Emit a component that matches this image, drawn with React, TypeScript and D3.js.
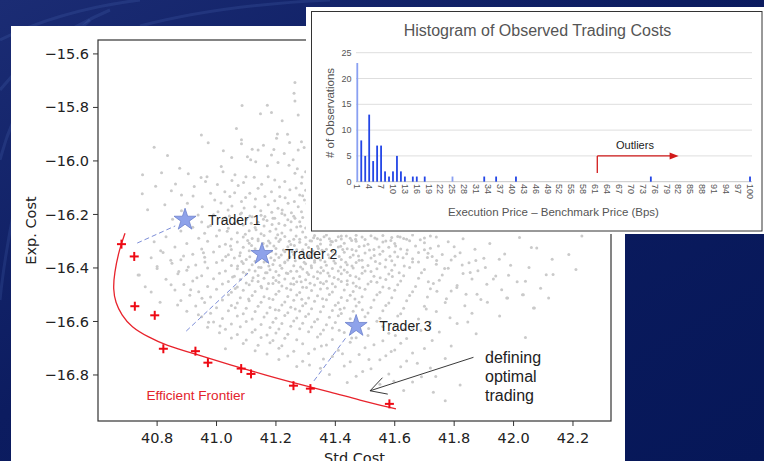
import React from "react";
import * as d3 from "d3";

// ---------------- Scatter (matplotlib) data ----------------
const xTicks = [40.8, 41.0, 41.2, 41.4, 41.6, 41.8, 42.0, 42.2];
const yTicks = [-15.6, -15.8, -16.0, -16.2, -16.4, -16.6, -16.8];

const traderNames = ["Trader 1", "Trader 2", "Trader 3"];
const traderStd = [40.894, 41.153, 41.47];
const traderExp = [-16.22, -16.348, -16.617];
// dashed connectors from frontier towards each trader: [std0, exp0, std1, exp1]
const connectors = [
  [40.733, -16.307, 40.861, -16.243],
  [40.898, -16.636, 41.106, -16.419],
  [41.328, -16.822, 41.44, -16.654],
];

const frontierStd = [40.692, 40.672, 40.656, 40.652, 40.66, 40.68, 40.713, 40.77, 40.826, 40.938, 41.049, 41.164, 41.275, 41.386, 41.477, 41.604];
const frontierExp = [-16.27, -16.333, -16.42, -16.48, -16.53, -16.575, -16.621, -16.658, -16.688, -16.725, -16.763, -16.8, -16.834, -16.864, -16.893, -16.927];

const optStd = [40.68, 40.723, 40.725, 40.792, 40.821, 40.929, 40.971, 41.083, 41.116, 41.259, 41.316, 41.582];
const optExp = [-16.311, -16.357, -16.543, -16.577, -16.702, -16.711, -16.754, -16.776, -16.796, -16.84, -16.851, -16.908];

const cloud: [number, number][] = [
  [41.264,-15.707],[41.261,-15.747],[41.264,-15.776],[41.086,-15.793],[41.171,-15.792],[41.148,-15.824],[41.185,-15.819],[41.221,-15.85],[41.275,-15.828],[41.067,-15.879],[41.205,-15.899],[41.202,-15.915],[41.239,-15.9],[40.949,-15.903],[40.972,-15.932],[41.084,-15.921],[41.084,-15.936],[40.79,-15.949],[40.835,-15.98],[41.12,-15.956],[41.14,-15.959],[41.104,-15.984],[41.115,-15.996],[41.185,-15.978],[41.275,-15.959],[41.286,-15.928],[40.876,-16.027],[40.815,-16.044],[40.751,-16.052],[41.016,-16.021],[41.022,-16.04],[40.968,-16.059],[40.963,-16.077],[41.062,-16.052],[41.073,-16.092],[41.099,-16.059],[41.127,-16.061],[41.174,-16.059],[41.196,-16.071],[41.23,-16.077],[41.264,-16.046],[41.258,-15.996],[40.75,-16.123],[40.848,-16.111],[40.882,-16.127],[40.925,-16.096],[41.028,-16.115],[41.045,-16.133],[40.826,-16.164],[40.902,-16.158],[40.994,-16.146],[40.952,-16.171],[41.084,-16.152],[41.112,-16.121],[41.14,-16.102],[41.163,-16.133],[41.185,-16.115],[41.213,-16.133],[41.247,-16.108],[41.28,-16.127],[41.286,-16.083],[41.129,-16.171],[41.174,-16.164],[41.207,-16.177],[41.241,-16.158],[41.275,-16.171],[41.039,-16.183],[41.005,-16.19],[41.084,-16.195],[41.112,-16.206],[41.163,-16.208],[41.196,-16.214],[41.23,-16.202],[41.264,-16.214],[41.286,-16.19],[40.938,-16.202],[40.972,-16.246],
  [41.295,-15.95],[41.31,-16.0],[41.3,-16.04],[41.315,-16.09],[41.29,-16.13],[41.305,-16.16],[41.31,-16.19],[41.3,-16.11],[41.288,-16.06],
  [40.99,-16.201],[41.03,-16.212],[41.08,-16.198],[41.12,-16.209],[41.15,-16.203],[41.19,-16.214],[41.22,-16.196],[41.26,-16.207],[41.29,-16.211],
  [40.95,-16.228],[41.02,-16.221],[41.06,-16.232],[41.1,-16.219],[41.14,-16.229],[41.17,-16.223],[41.21,-16.234],[41.24,-16.22],[41.28,-16.227],[41.31,-16.231],
  [40.92,-16.248],[40.98,-16.241],[41.04,-16.252],[41.09,-16.239],[41.13,-16.249],[41.16,-16.243],[41.2,-16.254],[41.23,-16.24],[41.27,-16.247],[41.3,-16.251],
  [40.88,-16.262],[40.96,-16.27],[41.01,-16.259],[41.07,-16.268],[41.11,-16.261],[41.15,-16.272],[41.18,-16.263],[41.22,-16.269],[41.25,-16.258],[41.29,-16.266],[41.33,-16.279],[41.37,-16.277],[41.42,-16.281],[41.47,-16.278],[41.52,-16.28],[41.56,-16.279],[41.61,-16.282],[41.66,-16.277],[41.72,-16.281],
  [40.83,-16.283],[40.94,-16.289],[41.0,-16.281],[41.05,-16.292],[41.09,-16.284],[41.12,-16.29],[41.16,-16.279],[41.2,-16.288],[41.23,-16.282],[41.26,-16.293],[41.3,-16.285],[41.34,-16.29],[41.38,-16.291],[41.41,-16.283],[41.45,-16.289],[41.49,-16.284],[41.54,-16.292],[41.59,-16.286],[41.63,-16.29],[41.7,-16.288],[41.74,-16.284],[41.83,-16.291],[42.02,-16.286],[42.23,-16.281],
  [40.79,-16.302],[40.9,-16.309],[40.97,-16.3],[41.03,-16.311],[41.07,-16.303],[41.11,-16.308],[41.14,-16.298],[41.18,-16.307],[41.21,-16.301],[41.25,-16.312],[41.28,-16.304],[41.32,-16.299],[41.35,-16.31],[41.39,-16.302],[41.43,-16.308],[41.47,-16.3],[41.51,-16.311],[41.56,-16.303],[41.6,-16.309],[41.65,-16.298],[41.7,-16.306],[41.78,-16.302],[41.92,-16.309],
  [40.86,-16.322],[40.95,-16.329],[41.01,-16.32],[41.05,-16.331],[41.09,-16.323],[41.13,-16.328],[41.17,-16.318],[41.2,-16.327],[41.24,-16.321],[41.27,-16.332],[41.31,-16.324],[41.34,-16.319],[41.37,-16.33],[41.41,-16.322],[41.44,-16.328],[41.48,-16.32],[41.53,-16.331],[41.58,-16.323],[41.62,-16.329],[41.67,-16.318],[41.72,-16.326],[41.8,-16.321],[41.87,-16.33],[42.06,-16.324],
  [40.82,-16.342],[40.92,-16.349],[40.99,-16.34],[41.04,-16.351],[41.08,-16.343],[41.2,-16.348],[41.23,-16.339],[41.26,-16.35],[41.29,-16.342],[41.33,-16.347],[41.36,-16.338],[41.4,-16.349],[41.43,-16.341],[41.46,-16.352],[41.5,-16.344],[41.55,-16.349],[41.6,-16.34],[41.64,-16.347],[41.68,-16.342],[41.76,-16.35],[41.82,-16.343],[41.97,-16.348],
  [40.78,-16.362],[40.88,-16.369],[40.96,-16.36],[41.02,-16.371],[41.06,-16.363],[41.1,-16.368],[41.13,-16.375],[41.17,-16.376],[41.21,-16.361],[41.24,-16.37],[41.28,-16.364],[41.31,-16.359],[41.35,-16.37],[41.38,-16.362],[41.42,-16.368],[41.45,-16.36],[41.49,-16.371],[41.52,-16.363],[41.57,-16.369],[41.61,-16.358],[41.66,-16.366],[41.71,-16.361],[41.79,-16.37],[41.9,-16.364],[42.13,-16.367],
  [40.85,-16.382],[40.93,-16.389],[41.0,-16.38],[41.05,-16.391],[41.09,-16.383],[41.12,-16.388],[41.16,-16.378],[41.19,-16.387],[41.23,-16.381],[41.26,-16.392],[41.3,-16.384],[41.33,-16.379],[41.37,-16.39],[41.4,-16.382],[41.44,-16.388],[41.47,-16.38],[41.51,-16.391],[41.55,-16.383],[41.6,-16.389],[41.66,-16.378],[41.74,-16.386],[41.85,-16.381],[41.99,-16.39],
  [40.8,-16.402],[40.9,-16.409],[40.97,-16.4],[41.03,-16.411],[41.07,-16.403],[41.11,-16.408],[41.15,-16.398],[41.18,-16.407],[41.22,-16.401],[41.25,-16.412],[41.29,-16.404],[41.32,-16.399],[41.36,-16.41],[41.39,-16.402],[41.43,-16.408],[41.46,-16.4],[41.5,-16.411],[41.54,-16.403],[41.59,-16.409],[41.65,-16.398],[41.7,-16.406],[41.78,-16.401],[41.88,-16.41],[42.21,-16.406],
  [40.87,-16.422],[40.95,-16.429],[41.01,-16.42],[41.06,-16.431],[41.1,-16.423],[41.14,-16.428],[41.17,-16.418],[41.21,-16.427],[41.24,-16.421],[41.28,-16.432],[41.31,-16.424],[41.35,-16.419],[41.38,-16.43],[41.42,-16.422],[41.45,-16.428],[41.49,-16.42],[41.53,-16.431],[41.58,-16.423],[41.63,-16.429],[41.69,-16.418],[41.76,-16.426],[41.83,-16.421],[41.94,-16.43],[42.11,-16.425],[42.133,-16.424],
  [40.74,-16.426],[40.83,-16.442],[40.92,-16.449],[40.99,-16.44],[41.04,-16.451],[41.08,-16.443],[41.12,-16.448],[41.16,-16.438],[41.2,-16.447],[41.23,-16.441],[41.27,-16.452],[41.3,-16.444],[41.34,-16.439],[41.37,-16.45],[41.41,-16.442],[41.44,-16.448],[41.48,-16.44],[41.52,-16.451],[41.57,-16.443],[41.62,-16.449],[41.68,-16.438],[41.75,-16.446],[41.86,-16.441],[42.04,-16.45],
  [40.89,-16.462],[40.97,-16.469],[41.02,-16.46],[41.07,-16.471],[41.11,-16.463],[41.15,-16.468],[41.19,-16.458],[41.22,-16.467],[41.26,-16.461],[41.29,-16.472],[41.33,-16.464],[41.36,-16.459],[41.4,-16.47],[41.44,-16.462],[41.47,-16.468],[41.51,-16.46],[41.56,-16.471],[41.61,-16.463],[41.67,-16.469],[41.73,-16.458],[41.81,-16.466],[41.91,-16.461],
  [40.78,-16.49],[40.86,-16.482],[40.94,-16.489],[41.0,-16.48],[41.05,-16.491],[41.09,-16.483],[41.13,-16.488],[41.17,-16.478],[41.21,-16.487],[41.25,-16.481],[41.28,-16.492],[41.32,-16.484],[41.35,-16.479],[41.39,-16.49],[41.43,-16.482],[41.46,-16.488],[41.5,-16.48],[41.55,-16.491],[41.6,-16.483],[41.66,-16.489],[41.72,-16.478],[41.79,-16.486],[41.96,-16.481],[42.03,-16.5],
  [40.91,-16.502],[40.98,-16.509],[41.04,-16.5],[41.08,-16.511],[41.12,-16.503],[41.16,-16.508],[41.2,-16.498],[41.24,-16.507],[41.27,-16.501],[41.31,-16.512],[41.34,-16.504],[41.38,-16.499],[41.42,-16.51],[41.45,-16.502],[41.49,-16.508],[41.54,-16.5],[41.59,-16.511],[41.65,-16.503],[41.71,-16.509],[41.84,-16.498],[41.98,-16.512],
  [40.81,-16.528],[40.88,-16.522],[40.96,-16.529],[41.02,-16.52],[41.07,-16.531],[41.11,-16.523],[41.15,-16.528],[41.19,-16.518],[41.23,-16.527],[41.26,-16.521],[41.3,-16.532],[41.33,-16.524],[41.37,-16.519],[41.41,-16.53],[41.44,-16.522],[41.48,-16.528],[41.53,-16.52],[41.58,-16.531],[41.64,-16.523],[41.77,-16.529],[41.89,-16.518],
  [40.93,-16.542],[41.0,-16.549],[41.05,-16.54],[41.1,-16.551],[41.14,-16.543],[41.18,-16.548],[41.22,-16.538],[41.25,-16.547],[41.29,-16.541],[41.32,-16.552],[41.36,-16.544],[41.4,-16.539],[41.43,-16.55],[41.47,-16.542],[41.52,-16.548],[41.57,-16.54],[41.63,-16.551],[41.7,-16.543],[42.07,-16.55],
  [40.9,-16.562],[40.98,-16.569],[41.04,-16.56],[41.09,-16.571],[41.13,-16.563],[41.17,-16.568],[41.21,-16.558],[41.24,-16.567],[41.28,-16.561],[41.31,-16.572],[41.35,-16.564],[41.39,-16.559],[41.42,-16.57],[41.46,-16.562],[41.51,-16.568],[41.56,-16.56],[41.62,-16.571],[41.74,-16.563],[41.86,-16.569],
  [40.95,-16.582],[41.02,-16.589],[41.07,-16.58],[41.12,-16.591],[41.16,-16.583],[41.2,-16.588],[41.23,-16.578],[41.27,-16.587],[41.3,-16.581],[41.34,-16.592],[41.38,-16.584],[41.41,-16.579],[41.45,-16.59],[41.5,-16.582],[41.55,-16.588],[41.61,-16.58],[41.68,-16.591],
  [40.99,-16.602],[41.05,-16.609],[41.1,-16.6],[41.15,-16.611],[41.19,-16.603],[41.22,-16.608],[41.26,-16.598],[41.29,-16.607],[41.33,-16.601],[41.37,-16.612],[41.4,-16.604],[41.54,-16.599],[41.6,-16.61],[41.72,-16.602],[41.81,-16.608],
  [40.97,-16.622],[41.03,-16.629],[41.08,-16.62],[41.13,-16.631],[41.18,-16.623],[41.21,-16.628],[41.25,-16.618],[41.28,-16.627],[41.32,-16.621],[41.36,-16.632],[41.39,-16.624],[41.56,-16.619],[41.63,-16.63],[41.66,-16.622],
  [41.01,-16.642],[41.07,-16.649],[41.12,-16.64],[41.17,-16.651],[41.2,-16.643],[41.24,-16.648],[41.31,-16.638],[41.35,-16.647],[41.43,-16.641],[41.51,-16.652],[41.58,-16.644],[41.75,-16.639],
  [41.05,-16.662],[41.1,-16.669],[41.15,-16.66],[41.19,-16.671],[41.23,-16.663],[41.27,-16.668],[41.34,-16.658],[41.39,-16.667],[41.47,-16.661],[41.56,-16.672],[41.64,-16.664],
  [41.09,-16.682],[41.14,-16.689],[41.18,-16.68],[41.22,-16.691],[41.29,-16.683],[41.37,-16.688],[41.45,-16.678],[41.53,-16.687],[41.62,-16.681],[41.79,-16.692],
  [41.03,-16.702],[41.13,-16.709],[41.21,-16.7],[41.26,-16.711],[41.33,-16.703],[41.41,-16.708],[41.5,-16.698],[41.6,-16.707],[41.7,-16.701],
  [41.17,-16.722],[41.24,-16.729],[41.31,-16.72],[41.39,-16.731],[41.48,-16.723],[41.57,-16.728],[41.66,-16.718],
  [41.21,-16.742],[41.29,-16.749],[41.36,-16.74],[41.45,-16.751],[41.55,-16.743],[41.64,-16.748],[41.77,-16.738],
  [41.27,-16.768],[41.35,-16.775],[41.43,-16.766],[41.52,-16.777],[41.62,-16.769],[41.72,-16.774],
  [41.38,-16.798],[41.47,-16.805],[41.58,-16.796],[41.69,-16.807],
  [41.44,-16.828],[41.55,-16.835],[41.66,-16.826],[41.82,-16.837],
  [41.63,-16.858],[41.73,-16.865],[41.77,-16.896],
  [41.105,-16.297],[41.14,-16.292],[41.175,-16.299],[41.215,-16.294],[41.245,-16.3],[41.28,-16.293],[41.315,-16.298],[41.35,-16.295],[41.385,-16.3],[41.42,-16.292],[41.455,-16.297],[41.5,-16.294],[41.57,-16.299],[41.64,-16.293],
  [41.11,-16.336],[41.15,-16.331],[41.185,-16.338],[41.225,-16.333],[41.255,-16.339],[41.29,-16.332],[41.325,-16.337],[41.355,-16.334],[41.39,-16.339],[41.425,-16.331],[41.47,-16.336],[41.515,-16.333],[41.56,-16.338],[41.7,-16.332],
  [41.085,-16.376],[41.195,-16.371],[41.23,-16.378],[41.265,-16.373],[41.295,-16.379],[41.33,-16.372],[41.365,-16.377],[41.395,-16.374],[41.435,-16.379],[41.48,-16.371],[41.535,-16.376],[41.59,-16.373],[41.68,-16.378],
  [41.09,-16.416],[41.13,-16.411],[41.165,-16.418],[41.2,-16.413],[41.235,-16.419],[41.27,-16.412],[41.305,-16.417],[41.34,-16.414],[41.375,-16.419],[41.41,-16.411],[41.44,-16.416],[41.52,-16.413],[41.615,-16.418],
  [41.1,-16.456],[41.14,-16.451],[41.175,-16.458],[41.21,-16.453],[41.25,-16.459],[41.285,-16.452],[41.315,-16.457],[41.35,-16.454],[41.39,-16.459],[41.42,-16.451],[41.46,-16.456],[41.54,-16.453],
  [42.078,-16.325],[42.033,-16.5],[41.977,-16.512],[42.067,-16.55],[40.736,-16.426],[40.76,-16.47],[40.8,-16.395],
  [41.023,-15.962],[41.051,-15.987],[41.158,-15.941],[41.193,-15.957],[41.228,-15.972],[41.246,-15.931],[41.132,-16.003],[41.171,-16.018],[41.207,-16.006],[41.244,-16.016],[41.272,-16.029],[41.052,-16.073],[41.091,-16.081],[41.152,-16.087],[41.212,-16.097],[41.268,-16.101],[41.003,-16.088],[40.98,-16.121],[41.061,-16.119],[41.098,-16.137],[41.131,-16.142],[41.196,-16.149],[41.231,-16.138],[41.262,-16.152],[41.296,-16.146],[41.015,-16.157],[41.052,-16.168],[41.093,-16.176],[41.149,-16.186],[41.186,-16.192],[41.221,-16.183],[41.252,-16.194],[40.921,-16.131],[40.948,-16.062],[40.905,-16.048],[40.862,-16.086],[40.795,-16.095],[40.768,-16.182],[40.852,-16.218],[40.882,-16.186],
  [41.043,-16.206],[41.071,-16.226],[41.117,-16.233],[41.158,-16.218],[41.187,-16.238],[41.251,-16.227],[41.283,-16.244],[41.036,-16.263],[41.097,-16.274],[41.133,-16.257],[41.206,-16.276],[41.268,-16.281],[41.327,-16.287],[41.362,-16.283],[41.402,-16.297],[41.437,-16.281],[41.468,-16.293],[41.533,-16.288],[41.587,-16.297],[41.618,-16.284],[41.686,-16.295],[41.047,-16.318],[41.118,-16.316],[41.157,-16.309],[41.193,-16.318],[41.262,-16.316],[41.301,-16.312],[41.343,-16.327],[41.384,-16.313],[41.418,-16.319],[41.456,-16.331],[41.497,-16.317],[41.547,-16.322],[41.603,-16.318],[41.642,-16.333],[41.747,-16.318],[41.031,-16.357],[41.078,-16.354],[41.112,-16.358],[41.183,-16.362],[41.218,-16.352],[41.247,-16.359],[41.312,-16.353],[41.342,-16.362],[41.376,-16.351],[41.413,-16.357],[41.478,-16.355],[41.531,-16.353],[41.584,-16.356],[41.628,-16.362],[41.726,-16.357],[41.071,-16.393],[41.142,-16.397],[41.176,-16.393],[41.214,-16.391],[41.283,-16.396],[41.319,-16.392],[41.352,-16.398],[41.418,-16.396],[41.456,-16.393],[41.492,-16.397],[41.568,-16.396],[41.632,-16.393],[41.054,-16.434],[41.123,-16.437],[41.191,-16.436],[41.259,-16.438],[41.327,-16.433],[41.396,-16.436],[41.469,-16.433],[41.551,-16.437],[41.592,-16.432],[41.063,-16.477],[41.152,-16.474],[41.236,-16.476],[41.303,-16.473],[41.373,-16.476],[41.482,-16.474],[41.581,-16.476],[41.108,-16.516],[41.177,-16.514],[41.287,-16.517],[41.357,-16.515],[41.466,-16.516],[41.063,-16.549],[41.198,-16.556],[41.265,-16.553],[41.416,-16.554],[41.491,-16.556],
  [40.812,-16.336],[40.846,-16.371],[40.873,-16.413],[40.905,-16.396],[40.934,-16.437],[40.961,-16.378],[40.847,-16.463],[40.913,-16.481],[40.869,-16.538],[40.951,-16.513],[40.939,-16.575],[40.973,-16.603],[41.012,-16.617],[40.889,-16.355],[40.956,-16.343],
  [41.712,-16.345],[41.741,-16.372],[41.768,-16.402],[41.803,-16.356],[41.827,-16.389],[41.854,-16.417],[41.873,-16.372],[41.905,-16.398],[41.932,-16.441],[41.952,-16.367],[41.983,-16.427],[42.012,-16.452],[42.052,-16.398],[42.091,-16.476],[41.713,-16.452],[41.742,-16.487],[41.774,-16.515],[41.809,-16.473],[41.836,-16.541],[41.877,-16.498],[41.912,-16.528],[41.706,-16.553],[41.786,-16.586],[41.846,-16.602],[41.953,-16.58],[42.186,-16.35],[42.118,-16.512],
  [41.413,-16.633],[41.455,-16.662],[41.512,-16.626],[41.602,-16.652],[41.688,-16.634],[41.726,-16.671],[41.353,-16.692],[41.424,-16.721],[41.513,-16.742],[41.588,-16.712],[41.676,-16.756],[41.313,-16.763],[41.492,-16.787],[41.597,-16.823],[41.738,-16.806],[41.874,-16.646],[41.927,-16.712],[42.04,-16.66],
];

// ---------------- Histogram (inset) data ----------------
const histCounts = [
  23, 8, 5, 13, 4, 7, 7, 2, 1, 2,
  5, 2, 1, 0, 1, 1, 0, 1, 0, 0,
  0, 0, 0, 0, 1, 0, 0, 0, 0, 0,
  0, 0, 1, 0, 0, 1, 0, 0, 0, 0,
  1, 0, 0, 0, 0, 0, 0, 0, 0, 0,
  0, 0, 0, 0, 0, 0, 0, 0, 0, 0,
  0, 0, 0, 0, 0, 0, 0, 0, 0, 0,
  0, 0, 0, 0, 1, 0, 0, 0, 0, 0,
  0, 0, 0, 0, 0, 0, 0, 0, 0, 0,
  0, 0, 0, 0, 0, 0, 0, 0, 0, 1,
];
const histXLabels = [1, 4, 7, 10, 13, 16, 19, 22, 25, 28, 31, 34, 37, 40, 43, 46, 49, 52, 55, 58, 61, 64, 67, 70, 73, 76, 79, 82, 85, 88, 91, 94, 97, 100];
const histYTicks = [0, 5, 10, 15, 20, 25];
const lightBins = [1, 25];
const outlierFrom = 62;
const outlierTo = 82;
const outlierLevel = 5;
const outlierBase = 1.7;

const SANS = "'Liberation Sans', Arial, sans-serif";
const MPL = "'DejaVu Sans', sans-serif";

export default function App() {
  // scatter scales
  const x = d3.scaleLinear().domain([40.601, 42.328]).range([98, 611]);
  const y = d3.scaleLinear().domain([-16.972, -15.548]).range([421, 40]);
  const fmt = d3.format(".1f");

  const frontierPts = frontierStd.map((s, i) => [x(s), y(frontierExp[i])] as [number, number]);
  const frontierPath = d3.line().curve(d3.curveBasis)(frontierPts) || "";
  const star = d3.symbol().type(d3.symbolStar).size(150)() || "";

  // histogram scales
  const cats = histCounts.map((_, i) => i + 1);
  const xh = d3.scaleBand<number>().domain(cats).range([355.3, 752]);
  const bw = xh.bandwidth();
  const yh = d3.scaleLinear().domain([0, 25]).range([181.7, 52.7]);

  // annotation arrow (scatter)
  const tipX = x(41.517), tipY = y(-16.859);
  const tailX = x(41.865), tailY = y(-16.734);
  const ang = Math.atan2(tailY - tipY, tailX - tipX);
  const wing = (da: number) => [tipX + 18 * Math.cos(ang + da), tipY + 18 * Math.sin(ang + da)];
  const w1 = wing(-0.5), w2 = wing(0.5);

  const oX0 = xh(outlierFrom)!;
  const oX1 = xh(outlierTo)! + bw / 2;
  const oY = yh(outlierLevel);

  return (
    <svg width={764} height={461} style={{ position: "absolute", left: 0, top: 0, display: "block" }}>
      <defs>
        <linearGradient id="bg" x1="0" y1="0" x2="1" y2="1">
          <stop offset="0" stopColor="#1b2c74" />
          <stop offset="0.45" stopColor="#0c1c60" />
          <stop offset="1" stopColor="#061758" />
        </linearGradient>
      </defs>
      <rect x={0} y={0} width={764} height={461} fill="url(#bg)" />
      {/* faint background streaks */}
      <g fill="none" stroke="#5a78c8" strokeOpacity={0.18} strokeWidth={3}>
        <path d="M0,40 Q60,10 140,0" />
        <path d="M0,90 Q40,40 110,10" />
        <path d="M0,160 Q20,80 90,20" />
        <path d="M0,300 Q10,200 60,26" />
        <path d="M140,26 Q220,5 330,0" />
      </g>

      {/* scatter panel */}
      <rect x={11} y={26} width={614} height={435} fill="#ffffff" />
      <g>
        {cloud.map(([s, e], i) => (
          <circle key={i} cx={x(s)} cy={y(e)} r={1.5} fill="#cacaca" />
        ))}
      </g>
      {/* connectors */}
      {connectors.map((c, i) => (
        <line key={i} x1={x(c[0])} y1={y(c[1])} x2={x(c[2])} y2={y(c[3])} stroke="#7d8ed8" strokeWidth={1} strokeDasharray="5,3" />
      ))}
      {/* frontier */}
      <path d={frontierPath} fill="none" stroke="#e8232c" strokeWidth={1.3} />
      {optStd.map((s, i) => (
        <g key={i} transform={`translate(${x(s)},${y(optExp[i])})`} stroke="#ee0a14" strokeWidth={2}>
          <line x1={-4.5} y1={0} x2={4.5} y2={0} />
          <line x1={0} y1={-4.5} x2={0} y2={4.5} />
        </g>
      ))}
      {/* traders */}
      {traderNames.map((n, i) => (
        <g key={n}>
          <path d={star} transform={`translate(${x(traderStd[i])},${y(traderExp[i])})`} fill="#8ea2ea" stroke="#6c80cc" strokeWidth={0.8} />
          <text x={x(traderStd[i]) + 23} y={y(traderExp[i])} dy="0.35em" fontFamily={SANS} fontSize={14} fill="#222">{n}</text>
        </g>
      ))}
      <text x={x(40.764)} y={y(-16.877)} dy="0.35em" fontFamily={SANS} fontSize={13.6} fill="#e3232c">Efficient Frontier</text>
      {/* annotation arrow */}
      <g stroke="#222" strokeWidth={0.9} fill="none">
        <line x1={tailX} y1={tailY} x2={tipX} y2={tipY} />
        <polyline points={`${w1[0]},${w1[1]} ${tipX},${tipY} ${w2[0]},${w2[1]}`} />
      </g>
      <g fontFamily={SANS} fontSize={16} fill="#222">
        <text x={x(41.904)} y={y(-16.734)} dy="0.35em">defining</text>
        <text x={x(41.904)} y={y(-16.734) + 19} dy="0.35em">optimal</text>
        <text x={x(41.904)} y={y(-16.734) + 38} dy="0.35em">trading</text>
      </g>

      {/* axes frame */}
      <rect x={98} y={40} width={513} height={381} fill="none" stroke="#333" strokeWidth={1.2} />
      {yTicks.map((t) => (
        <g key={t}>
          <line x1={93} x2={98} y1={y(t)} y2={y(t)} stroke="#333" strokeWidth={1} />
          <text x={89} y={y(t)} dy="0.35em" textAnchor="end" fontFamily={MPL} fontSize={14.5} fill="#222">{fmt(t)}</text>
        </g>
      ))}
      {xTicks.map((t) => (
        <g key={t}>
          <line x1={x(t)} x2={x(t)} y1={421} y2={426} stroke="#333" strokeWidth={1} />
          <text x={x(t)} y={443} textAnchor="middle" fontFamily={MPL} fontSize={14.5} fill="#222">{fmt(t)}</text>
        </g>
      ))}
      <text transform="translate(36,230.5) rotate(-90)" textAnchor="middle" fontFamily={MPL} fontSize={14.5} fill="#222">Exp. Cost</text>
      <text x={354.5} y={463} textAnchor="middle" fontFamily={MPL} fontSize={14.5} fill="#222">Std Cost</text>

      {/* inset histogram */}
      <rect x={306} y={7} width={458} height={227} fill="#ffffff" />
      <rect x={311.5} y={11.5} width={450.5} height={219.5} fill="none" stroke="#333" strokeWidth={1} />
      <text x={537.5} y={35.5} textAnchor="middle" fontFamily={SANS} fontSize={16} fill="#555">Histogram of Observed Trading Costs</text>
      {histYTicks.map((t) => (
        <g key={t}>
          <line x1={356} x2={752} y1={yh(t)} y2={yh(t)} stroke={t === 0 ? "#c8c8c8" : "#dedede"} strokeWidth={1} />
          <text x={351.5} y={yh(t)} dy="0.35em" textAnchor="end" fontFamily={SANS} fontSize={9} fill="#555">{t}</text>
        </g>
      ))}
      {cats.map((c, i) =>
        histCounts[i] > 0 ? (
          <rect key={c} x={xh(c)! + bw / 2 - 0.9} y={yh(histCounts[i])} width={1.8} height={yh(0) - yh(histCounts[i])}
            fill={lightBins.includes(c) ? "#8aa0f2" : "#2446e6"} />
        ) : null
      )}
      {histXLabels.map((l) => (
        <text key={l} transform={`translate(${xh(l)! + bw / 2},184) rotate(90)`} dy="0.35em" fontFamily={SANS} fontSize={9} fill="#555">{l}</text>
      ))}
      <text transform="translate(334,113) rotate(-90)" textAnchor="middle" fontFamily={SANS} fontSize={11.5} fill="#555"># of Observations</text>
      <text x={553.5} y={216} textAnchor="middle" fontFamily={SANS} fontSize={11.5} fill="#555">Execution Price – Benchmark Price (Bps)</text>
      {/* outliers annotation */}
      <g stroke="#d11a1a" strokeWidth={1.3} fill="none">
        <line x1={oX0} y1={yh(outlierBase)} x2={oX0} y2={oY} />
        <line x1={oX0} y1={oY} x2={oX1 - 7} y2={oY} />
      </g>
      <path d={`M${oX1},${oY} L${oX1 - 9},${oY - 3.5} L${oX1 - 9},${oY + 3.5} Z`} fill="#d11a1a" />
      <text x={(oX0 + oX1) / 2 - 3} y={149} textAnchor="middle" fontFamily={SANS} fontSize={11} fill="#222">Outliers</text>
    </svg>
  );
}
